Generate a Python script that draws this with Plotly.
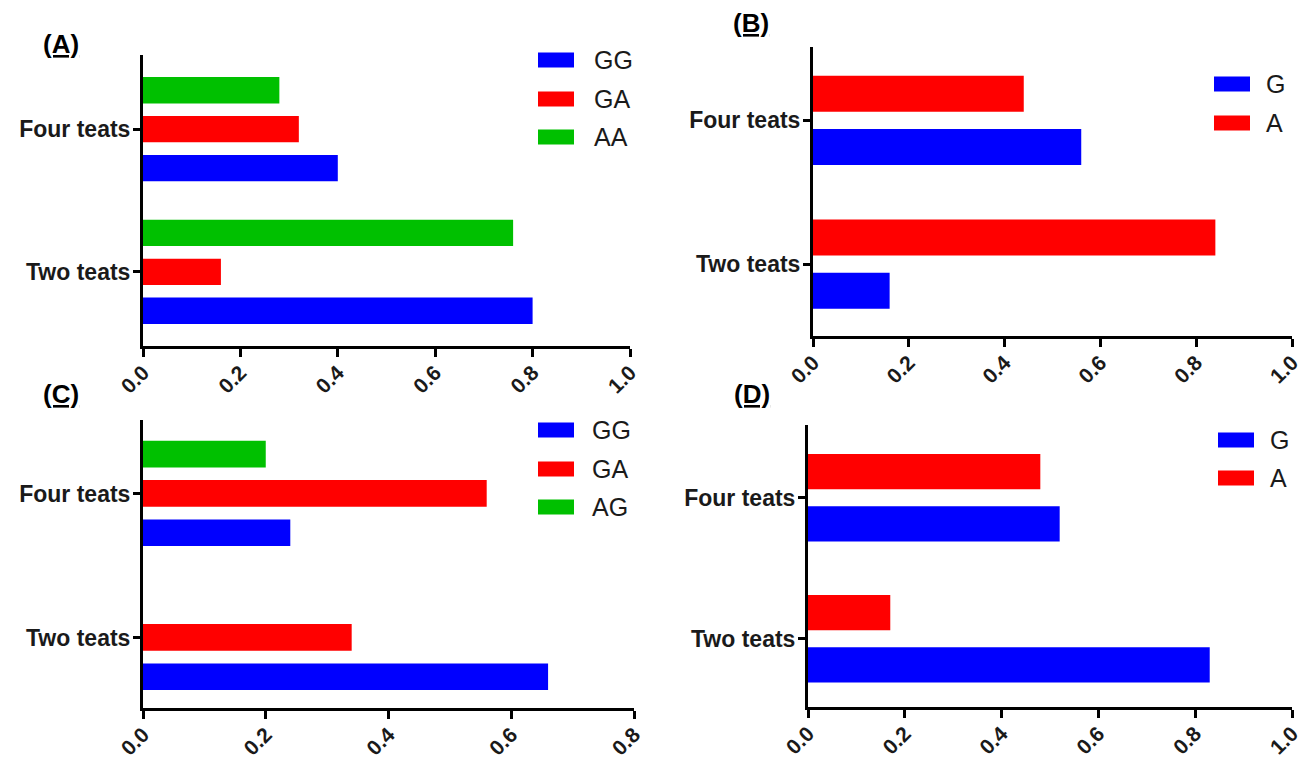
import plotly.graph_objects as go

# ---------------- data ----------------
categories = ["Two teats", "Four teats"]

a_names = ["GG", "GA", "AA"]
a_gg = [0.80, 0.40]
a_ga = [0.16, 0.32]
a_aa = [0.76, 0.28]

b_names = ["G", "A"]
b_g = [0.16, 0.56]
b_a = [0.84, 0.44]

c_names = ["GG", "GA", "AG"]
c_gg = [0.66, 0.24]
c_ga = [0.34, 0.56]
c_ag = [0.0, 0.20]

d_names = ["G", "A"]
d_g = [0.83, 0.52]
d_a = [0.17, 0.48]

x_ticks_1 = [0.0, 0.2, 0.4, 0.6, 0.8, 1.0]
x_ticks_08 = [0.0, 0.2, 0.4, 0.6, 0.8]

# ---------------- style ----------------
PAD = 8                      # default page body margin
W, H = 1307 - PAD, 762 - PAD
BLUE, RED, GREEN = "#0000FF", "#FF0000", "#00C000"
FONT = "Liberation Sans"
TXT = "#1a1a1a"


def fx(p):
    return (p - PAD) / W


def fy(p):
    return 1 - (p - PAD) / H


panels = [
    dict(label="(A)", names=a_names, values=[a_gg, a_ga, a_aa], colors=[BLUE, RED, GREEN],
         ticks=x_ticks_1, xd=(143, 630), yd=(55, 346), yr=[-0.52, 1.52],
         lab=(61, 44), leg_rect=538, leg_txt=592, leg_y=[60, 99, 137]),
    dict(label="(B)", names=b_names, values=[b_g, b_a], colors=[BLUE, RED],
         ticks=x_ticks_1, xd=(813, 1292), yd=(47, 336), yr=[-0.5, 1.51],
         lab=(751, 23), leg_rect=1214, leg_txt=1264, leg_y=[84, 123]),
    dict(label="(C)", names=c_names, values=[c_gg, c_ga, c_ag], colors=[BLUE, RED, GREEN],
         ticks=x_ticks_08, xd=(143, 634), yd=(420, 708), yr=[-0.49, 1.51],
         lab=(61, 394), leg_rect=538, leg_txt=590, leg_y=[430, 469, 507]),
    dict(label="(D)", names=d_names, values=[d_g, d_a], colors=[BLUE, RED],
         ticks=x_ticks_1, xd=(808, 1292), yd=(425, 707), yr=[-0.484, 1.516],
         lab=(752, 394), leg_rect=1218, leg_txt=1268, leg_y=[440, 478]),
]

fig = go.Figure()
shapes = []
annotations = []
layout = {}

for i, p in enumerate(panels):
    s = "" if i == 0 else str(i + 1)
    n = len(p["names"])
    slot = 0.273 if n == 3 else 0.37
    bw = 0.185 if n == 3 else 0.25
    for j, (name, vals, col) in enumerate(zip(p["names"], p["values"], p["colors"])):
        center = (j - (n - 1) / 2) * slot
        fig.add_trace(go.Bar(
            x=vals, y=categories, orientation="h", name=name,
            marker=dict(color=col, line=dict(width=0)),
            width=bw, offset=center - bw / 2,
            xaxis="x" + s, yaxis="y" + s, showlegend=False,
        ))
    ticks = p["ticks"]
    layout["xaxis" + s] = dict(
        domain=[fx(p["xd"][0]), fx(p["xd"][1])], anchor="y" + s,
        range=[ticks[0], ticks[-1]], tickvals=ticks,
        ticktext=[f"{t:.1f}" for t in ticks], tickangle=-45,
        showline=True, linewidth=3, linecolor="black", mirror=False,
        ticks="outside", ticklen=8, tickwidth=2.5, tickcolor="black",
        showgrid=False, zeroline=False, automargin=False,
        ticklabeloverflow="allow", ticklabelstandoff=-5,
        tickfont=dict(family=FONT, size=21, color=TXT, weight="bold"),
    )
    layout["yaxis" + s] = dict(
        domain=[fy(p["yd"][1]), fy(p["yd"][0])], anchor="x" + s,
        type="category", range=p["yr"],
        showline=True, linewidth=3, linecolor="black",
        ticks="outside", ticklen=7, tickwidth=2.5, tickcolor="black",
        showgrid=False, zeroline=False, automargin=False,
        ticklabeloverflow="allow", ticklabelstandoff=-2,
        tickfont=dict(family=FONT, size=23, color=TXT, weight="bold"),
    )
    # panel label
    annotations.append(dict(
        x=fx(p["lab"][0]), y=fy(p["lab"][1]), xref="paper", yref="paper",
        text="<b><u>" + p["label"] + "</u></b>", showarrow=False,
        xanchor="center", yanchor="middle",
        font=dict(family=FONT, size=26, color="black"),
    ))
    # legend
    for name, col, yc in zip(p["names"], p["colors"], p["leg_y"]):
        shapes.append(dict(
            type="rect", xref="paper", yref="paper",
            x0=fx(p["leg_rect"]), x1=fx(p["leg_rect"] + 36),
            y0=fy(yc + 7.5), y1=fy(yc - 7.5),
            fillcolor=col, line=dict(width=0),
        ))
        annotations.append(dict(
            x=fx(p["leg_txt"]), y=fy(yc), xref="paper", yref="paper",
            text=name, showarrow=False, xanchor="left", yanchor="middle",
            font=dict(family=FONT, size=25, color=TXT),
        ))

fig.update_layout(
    width=W, height=H, margin=dict(l=0, r=0, t=0, b=0),
    paper_bgcolor="white", plot_bgcolor="white",
    barmode="overlay", shapes=shapes, annotations=annotations,
    **layout,
)

fig.write_html("out.html")
